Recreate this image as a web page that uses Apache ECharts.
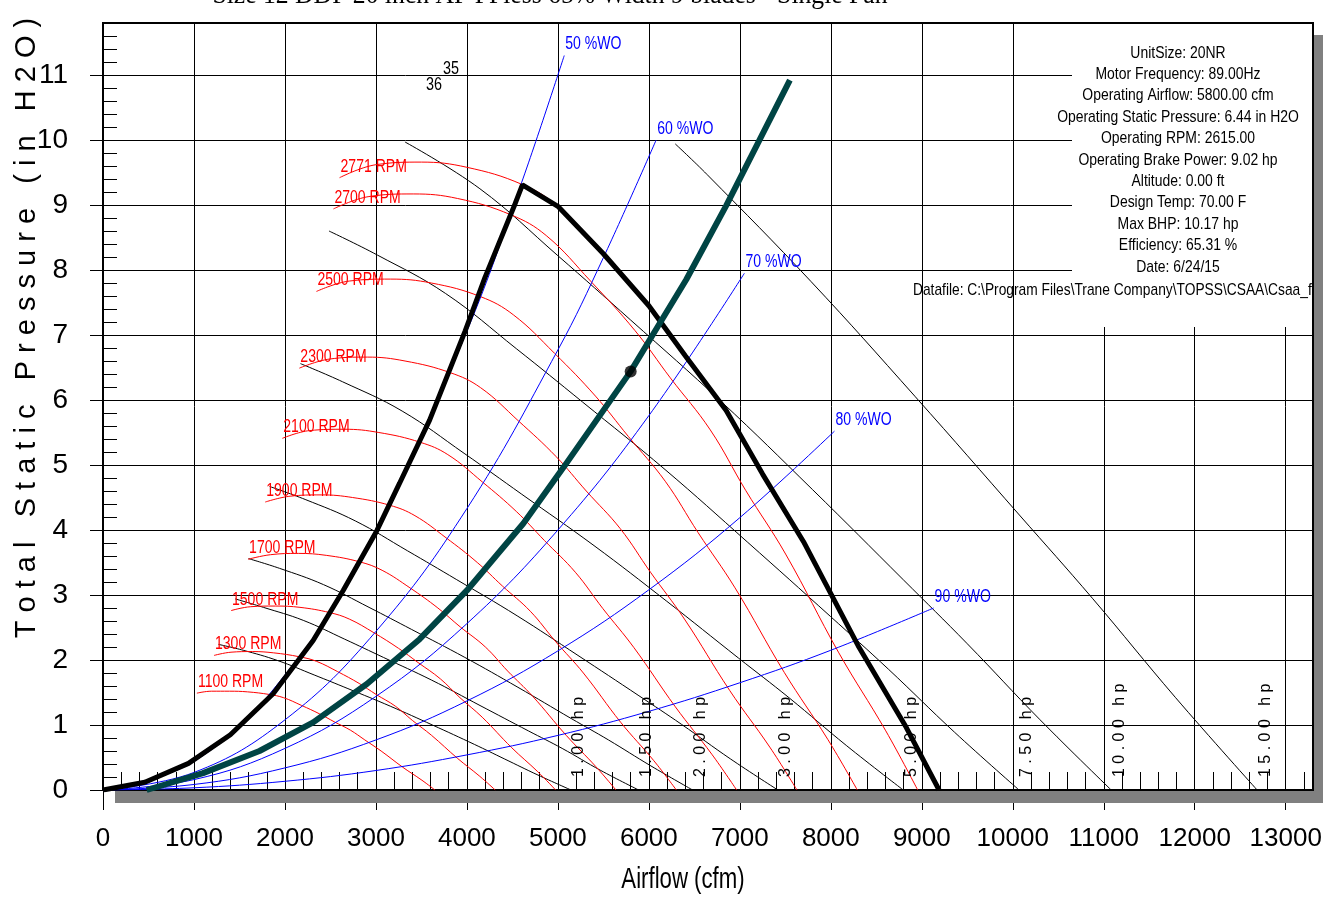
<!DOCTYPE html>
<html>
<head>
<meta charset="utf-8">
<script src="https://cdn.jsdelivr.net/npm/echarts@6.0.0/dist/echarts.min.js"></script>
<style>
html, body { margin: 0; padding: 0; background: #fff; }
#main { width: 1323px; height: 903px; }
</style>
</head>
<body>
<div id="main"></div>
<script>
// fan curves, airflow (cfm) vs total static pressure (in H2O)
var rpm2771 = [[2600,9.42],[3000,9.62],[3500,9.66],[4000,9.58],[4600,9.32],[5000,8.98],[5500,8.25],[6000,7.45],[6400,6.68],[6850,5.84],[7250,4.86],[7700,3.82],[8300,2.22],[8830,0.96],[9190,0]];
var rpm2700 = [[2533,8.94],[2923,9.13],[3410,9.17],[3898,9.10],[4482,8.85],[4872,8.53],[5359,7.83],[5846,7.07],[6236,6.34],[6675,5.54],[7064,4.61],[7503,3.63],[8088,2.11],[8604,0.91],[8955,0]];
var rpm2500 = [[2346,7.67],[2707,7.83],[3158,7.86],[3609,7.80],[4150,7.59],[4511,7.31],[4962,6.72],[5413,6.06],[5774,5.44],[6180,4.75],[6541,3.96],[6947,3.11],[7488,1.81],[7966,0.78],[8291,0]];
var rpm2300 = [[2158,6.49],[2490,6.63],[2905,6.66],[3320,6.60],[3818,6.42],[4150,6.19],[4565,5.68],[4980,5.13],[5312,4.60],[5686,4.02],[6018,3.35],[6391,2.63],[6889,1.53],[7329,0.66],[7628,0]];
var rpm2100 = [[1971,5.41],[2274,5.53],[2653,5.55],[3032,5.50],[3486,5.35],[3790,5.16],[4169,4.74],[4547,4.28],[4851,3.84],[5192,3.35],[5495,2.79],[5836,2.19],[6291,1.28],[6692,0.55],[6965,0]];
var rpm1900 = [[1783,4.43],[2057,4.52],[2400,4.54],[2743,4.50],[3154,4.38],[3429,4.22],[3771,3.88],[4114,3.50],[4389,3.14],[4697,2.75],[4971,2.29],[5280,1.80],[5691,1.04],[6055,0.45],[6302,0]];
var rpm1700 = [[1595,3.55],[1841,3.62],[2147,3.64],[2454,3.61],[2822,3.51],[3068,3.38],[3374,3.11],[3681,2.80],[3926,2.51],[4203,2.20],[4448,1.83],[4724,1.44],[5092,0.84],[5417,0.36],[5638,0]];
var rpm1500 = [[1407,2.76],[1624,2.82],[1895,2.83],[2165,2.81],[2490,2.73],[2707,2.63],[2977,2.42],[3248,2.18],[3464,1.96],[3708,1.71],[3924,1.42],[4168,1.12],[4493,0.65],[4780,0.28],[4975,0]];
var rpm1300 = [[1220,2.07],[1407,2.12],[1642,2.13],[1876,2.11],[2158,2.05],[2346,1.98],[2580,1.82],[2815,1.64],[3002,1.47],[3213,1.29],[3401,1.07],[3612,0.84],[3894,0.49],[4142,0.21],[4311,0]];
var rpm1100 = [[1032,1.49],[1191,1.52],[1390,1.52],[1588,1.51],[1826,1.47],[1985,1.42],[2184,1.30],[2382,1.17],[2541,1.05],[2720,0.92],[2878,0.77],[3057,0.60],[3295,0.35],[3506,0.15],[3648,0]];
var rpmNames = ['2771 RPM','2700 RPM','2500 RPM','2300 RPM','2100 RPM','1900 RPM','1700 RPM','1500 RPM','1300 RPM','1100 RPM'];

// percent wide open system lines
var wo50 = [[0,0],[1000,0.44],[2000,1.77],[3000,3.97],[4000,7.06],[4600,9.34],[5070,11.3]];
var wo60 = [[0,0],[1000,0.27],[2000,1.08],[3000,2.44],[4000,4.33],[5000,6.77],[5500,8.19],[6080,10.0]];
var wo70 = [[0,0],[1000,0.16],[2000,0.64],[3000,1.44],[4000,2.56],[5000,4.0],[6000,5.76],[7050,7.95]];
var wo80 = [[0,0],[1000,0.085],[2000,0.34],[3000,0.77],[4000,1.37],[5000,2.14],[6000,3.08],[7000,4.19],[8040,5.52]];
var wo90 = [[0,0],[1000,0.034],[2000,0.134],[3000,0.30],[4000,0.54],[5000,0.84],[6000,1.21],[7000,1.65],[8000,2.15],[9130,2.80]];
var woNames = ['50 %WO','60 %WO','70 %WO','80 %WO','90 %WO'];

// brake horsepower lines
var hp100 = [[1269,2.24],[1541,2.15],[1923,1.99],[2321,1.77],[2692,1.56],[3157,1.29],[3621,1.00],[4085,0.70],[4410,0.48],[4781,0.23],[5144,0]];
var hp150 = [[1453,2.94],[1763,2.81],[2201,2.61],[2657,2.32],[3082,2.04],[3613,1.69],[4144,1.30],[4675,0.91],[5047,0.64],[5472,0.30],[5888,0]];
var hp200 = [[1599,3.56],[1941,3.41],[2423,3.16],[2924,2.81],[3392,2.47],[3977,2.04],[4561,1.58],[5146,1.10],[5556,0.77],[6023,0.37],[6481,0]];
var hp300 = [[1830,4.67],[2222,4.47],[2773,4.14],[3347,3.68],[3883,3.24],[4552,2.68],[5221,2.07],[5891,1.45],[6359,1.01],[6895,0.48],[7418,0]];
var hp500 = [[2170,6.56],[2634,6.28],[3288,5.83],[3969,5.18],[4603,4.55],[5397,3.76],[6191,2.91],[6985,2.03],[7540,1.42],[8175,0.68],[8796,0]];
var hp750 = [[2484,8.60],[3016,8.23],[3764,7.64],[4543,6.79],[5270,5.97],[6178,4.93],[7087,3.81],[7996,2.67],[8632,1.86],[9359,0.89],[10069,0]];
var hp1000 = [[3319,9.97],[4143,9.25],[5000,8.22],[5800,7.23],[6800,5.97],[7800,4.62],[8800,3.23],[9500,2.25],[10300,1.08],[11082,0]];
var hp1500 = [[6290,9.94],[6639,9.47],[7784,7.82],[8929,6.05],[10073,4.23],[10875,2.95],[11790,1.42],[12686,0]];
var hpNames = ['1.00 hp','1.50 hp','2.00 hp','3.00 hp','5.00 hp','7.50 hp','10.00 hp','15.00 hp'];

// surge / max rpm limit and the system curve
var limitLine = [[0,0],[460,0.12],[940,0.41],[1400,0.85],[1870,1.48],[2310,2.30],[2640,3.07],[3010,3.99],[3260,4.72],[3590,5.69],[3980,7.06],[4200,7.89],[4530,9.02],[4610,9.31],
  [5000,8.98],[5500,8.25],[6000,7.45],[6400,6.68],[6850,5.84],[7250,4.86],[7700,3.82],[8300,2.22],[8830,0.96],[9190,0]];
var systemCurve = [[480,0],[1100,0.26],[1720,0.60],[2310,1.04],[2900,1.63],[3480,2.32],[4000,3.07],[4620,4.10],[5060,4.96],[5800,6.44],[6050,7.02],[6410,7.85],[6850,8.99],[7550,10.92]];
var operatingPoint = [[5800,6.44]];

var infoLines = ['UnitSize: 20NR','Motor Frequency: 89.00Hz','Operating Airflow: 5800.00 cfm','Operating Static Pressure: 6.44 in H2O',
  'Operating RPM: 2615.00','Operating Brake Power: 9.02 hp','Altitude: 0.00 ft','Design Temp: 70.00 F','Max BHP: 10.17 hp',
  'Efficiency: 65.31 %','Date: 6/24/15'];
var dataFile = 'Datafile: C:\\Program Files\\Trane Company\\TOPSS\\CSAA\\Csaa_f';
var titleText = 'Size 12 DDP 20 inch AF FFless 65% Width 9 blades - Single Fan';

var SANS = "'Liberation Sans', Arial, sans-serif";

var chart = echarts.init(document.getElementById('main'));

function curve(name, data, color, width, smooth, z) {
  return {
    name: name, type: 'line', data: data, smooth: smooth, symbol: 'none',
    lineStyle: { color: color, width: width }, z: z, silent: true
  };
}

var rpmData = [rpm2771, rpm2700, rpm2500, rpm2300, rpm2100, rpm1900, rpm1700, rpm1500, rpm1300, rpm1100];
var woData = [wo50, wo60, wo70, wo80, wo90];
var hpData = [hp100, hp150, hp200, hp300, hp500, hp750, hp1000, hp1500];

var series = [];
hpData.forEach(function (d, i) { series.push(curve(hpNames[i], d, '#000', 1, 0.4, 3)); });
rpmData.forEach(function (d, i) { series.push(curve(rpmNames[i], d, '#ff0000', 1, 0.4, 4)); });
woData.forEach(function (d, i) { series.push(curve(woNames[i], d, '#0000ff', 1, 0.4, 5)); });
series.push(curve('limit', limitLine, '#000', 5, false, 6));
series.push(curve('system', systemCurve, '#004444', 6, false, 7));
series.push({
  type: 'scatter', data: operatingPoint, symbolSize: 12, itemStyle: { color: '#000' }, z: 8, silent: true
});

var option = {
  animation: false,
  backgroundColor: '#fff',
  grid: { left: 103, top: 23, width: 1210, height: 767, outerBoundsMode: 'none', containLabel: false,
    show: true, borderColor: '#000', borderWidth: 2, backgroundColor: '#fff' },
  xAxis: [{
    type: 'value', min: 0, max: 13300, interval: 1000, position: 'bottom',
    axisLine: { show: true, onZero: false, lineStyle: { color: '#000', width: 2 } },
    axisTick: { show: true, length: 20, lineStyle: { color: '#000' } },
    axisLabel: { fontSize: 26, fontFamily: SANS, color: '#000', margin: 36, showMaxLabel: false,
      formatter: function (v) { return String(v); } },
    splitLine: { show: true, lineStyle: { color: '#000', width: 1 } }
  }, {
    type: 'value', min: 0, max: 13300, interval: 1000, position: 'bottom',
    axisLine: { show: false }, axisLabel: { show: false }, splitLine: { show: false },
    axisTick: { show: false, inside: true },
    minorTick: { show: true, splitNumber: 5, length: 18, lineStyle: { color: '#000' } }
  }],
  yAxis: [{
    type: 'value', min: 0, max: 11.8, interval: 1, position: 'left',
    axisLine: { show: true, onZero: false, lineStyle: { color: '#000', width: 2 } },
    axisTick: { show: true, length: 13, lineStyle: { color: '#000' } },
    axisLabel: { fontSize: 28, fontFamily: SANS, color: '#000', margin: 35, showMaxLabel: false, padding: [6, 0, 0, 0] },
    splitLine: { show: true, lineStyle: { color: '#000', width: 1 } }
  }, {
    type: 'value', min: 0, max: 11.8, interval: 1, position: 'left',
    axisLine: { show: false }, axisLabel: { show: false }, splitLine: { show: false },
    axisTick: { show: false, inside: true },
    minorTick: { show: true, splitNumber: 5, length: 14, lineStyle: { color: '#000' } }
  }],
  series: series
};
chart.setOption(option);

function px(pt) { return chart.convertToPixel({ xAxisIndex: 0, yAxisIndex: 0 }, pt); }

function label(t, x, y, size, color, align, sx, extra) {
  var g = { type: 'text', x: x, y: y, scaleX: sx, z: 41,
    style: { text: t, fontSize: size, fontFamily: SANS, fill: color, align: align, verticalAlign: 'middle' } };
  if (extra) { for (var k in extra) g[k] = extra[k]; }
  return g;
}

var spaced = 'Total Static Pressure (in H2O)'.split('').join(' ');
var graphic = [
  { type: 'rect', shape: { x: 115, y: 791, width: 1210, height: 12 }, style: { fill: '#808080' }, z: 1 },
  { type: 'rect', shape: { x: 1314, y: 35, width: 11, height: 768 }, style: { fill: '#808080' }, z: 1 },
  { type: 'text', x: 550, y: -4, scaleX: 0.95, z: 60, style: { text: titleText, fontSize: 27, fontFamily: "'Liberation Serif', serif", fill: '#000', align: 'center', verticalAlign: 'middle' } },
  { type: 'text', x: 27, y: 328, rotation: Math.PI / 2, z: 60, style: { text: spaced, fontSize: 29, fontFamily: SANS, fill: '#000', align: 'center', verticalAlign: 'middle' } },
  label('Airflow (cfm)', 683, 880, 30, '#000', 'center', 0.74),
  { type: 'rect', shape: { x: 1072, y: 24, width: 240, height: 303 }, style: { fill: '#fff' }, z: 40 },
  label(dataFile, 913, 290, 17, '#000', 'left', 0.81),
  label('35', 443, 69, 18, '#000', 'left', 0.8),
  label('36', 426, 85, 18, '#000', 'left', 0.8)
];
infoLines.forEach(function (t, i) {
  graphic.push(label(t, 1178, 53 + i * 21.4, 17, '#000', 'center', 0.82));
});
rpmData.forEach(function (d, i) {
  var p = px(d[0]);
  graphic.push(label(rpmNames[i], p[0] + 1, p[1] - 11, 18, '#ff0000', 'left', 0.78));
});
woData.forEach(function (d, i) {
  var p = px(d[d.length - 1]);
  graphic.push(label(woNames[i], p[0] + 1, p[1] - 11, 18, '#0000ff', 'left', 0.78));
});
hpData.forEach(function (d, i) {
  var p = px(d[d.length - 1]);
  graphic.push(label(hpNames[i].split('').join(' '), p[0] + 8, p[1] - 13, 16, '#000', 'left', 1, { rotation: Math.PI / 2 }));
});
chart.setOption({ graphic: graphic });
</script>
</body>
</html>
